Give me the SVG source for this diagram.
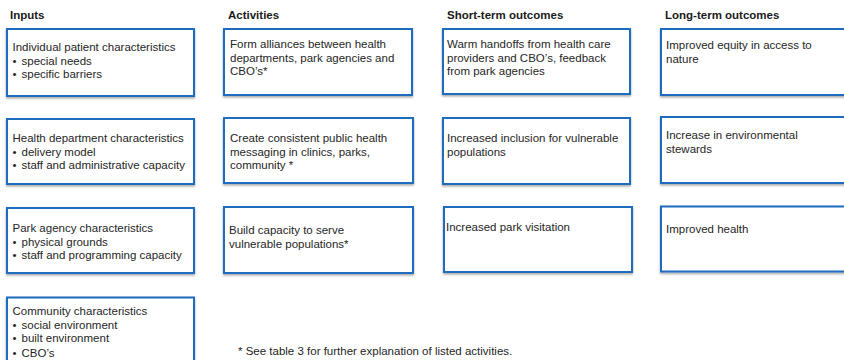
<svg xmlns="http://www.w3.org/2000/svg" width="844" height="360" viewBox="0 0 844 360">
  <defs>
    <filter id="shadow" x="-5%" y="-10%" width="110%" height="125%">
      <feDropShadow dx="0" dy="1.5" stdDeviation="1" flood-color="#000" flood-opacity="0.35"/>
    </filter>
    <style>
      .box { fill: #ffffff; stroke: #1f6cc0; stroke-width: 2; filter: url(#shadow); }
      .hdr { font-family: "Liberation Sans", Arial, sans-serif; font-size: 11.5px; font-weight: bold; fill: #1a1a1a; }
      .txt { font-family: "Liberation Sans", Arial, sans-serif; font-size: 11.5px; fill: #262626; }
    </style>
  </defs>
  <rect width="844" height="360" fill="#ffffff"/>

  <!-- column headers -->
  <g id="headers">
    <text class="hdr" x="10" y="19">Inputs</text>
    <text class="hdr" x="228" y="19">Activities</text>
    <text class="hdr" x="447" y="19">Short-term outcomes</text>
    <text class="hdr" x="665" y="19">Long-term outcomes</text>
  </g>

  <!-- connectors (none drawn) -->
  <g id="connectors"/>

  <!-- Inputs -->
  <g id="input-patient">
    <rect class="box" x="7" y="29" width="187" height="67"/>
    <text class="txt" x="12.5" y="51">Individual patient characteristics</text>
    <text class="txt" y="64.5"><tspan x="12.5">•</tspan><tspan x="21.5">special needs</tspan></text>
    <text class="txt" y="78"><tspan x="12.5">•</tspan><tspan x="21.5">specific barriers</tspan></text>
  </g>
  <g id="input-health-dept">
    <rect class="box" x="7" y="119" width="187" height="65"/>
    <text class="txt" x="12.5" y="142">Health department characteristics</text>
    <text class="txt" y="155.5"><tspan x="12.5">•</tspan><tspan x="21.5">delivery model</tspan></text>
    <text class="txt" y="169"><tspan x="12.5">•</tspan><tspan x="21.5">staff and administrative capacity</tspan></text>
  </g>
  <g id="input-park-agency">
    <rect class="box" x="7" y="208" width="187" height="65"/>
    <text class="txt" x="12.5" y="232">Park agency characteristics</text>
    <text class="txt" y="245.5"><tspan x="12.5">•</tspan><tspan x="21.5">physical grounds</tspan></text>
    <text class="txt" y="259"><tspan x="12.5">•</tspan><tspan x="21.5">staff and programming capacity</tspan></text>
  </g>
  <g id="input-community">
    <rect class="box" x="7" y="297.5" width="187" height="70"/>
    <text class="txt" x="12.5" y="315">Community characteristics</text>
    <text class="txt" y="328.5"><tspan x="12.5">•</tspan><tspan x="21.5">social environment</tspan></text>
    <text class="txt" y="342"><tspan x="12.5">•</tspan><tspan x="21.5">built environment</tspan></text>
    <text class="txt" y="356.5"><tspan x="12.5">•</tspan><tspan x="21.5">CBO’s</tspan></text>
  </g>

  <!-- Activities -->
  <g id="activity-alliances">
    <rect class="box" x="224" y="29" width="188" height="66"/>
    <text class="txt" x="230" y="48">Form alliances between health</text>
    <text class="txt" x="230" y="61.5">departments, park agencies and</text>
    <text class="txt" x="230" y="75">CBO’s*</text>
  </g>
  <g id="activity-messaging">
    <rect class="box" x="224" y="118" width="189" height="65"/>
    <text class="txt" x="230" y="142">Create consistent public health</text>
    <text class="txt" x="230" y="155.5">messaging in clinics, parks,</text>
    <text class="txt" x="230" y="169">community *</text>
  </g>
  <g id="activity-capacity">
    <rect class="box" x="224" y="207" width="189" height="66"/>
    <text class="txt" x="229" y="234">Build capacity to serve</text>
    <text class="txt" x="229" y="247.5">vulnerable populations*</text>
  </g>

  <!-- Short-term outcomes -->
  <g id="short-handoffs">
    <rect class="box" x="443" y="29" width="187" height="65"/>
    <text class="txt" x="447" y="48">Warm handoffs from health care</text>
    <text class="txt" x="447" y="61.5">providers and CBO’s, feedback</text>
    <text class="txt" x="447" y="75">from park agencies</text>
  </g>
  <g id="short-inclusion">
    <rect class="box" x="443" y="118" width="187" height="66"/>
    <text class="txt" x="447" y="142">Increased inclusion for vulnerable</text>
    <text class="txt" x="447" y="155.5">populations</text>
  </g>
  <g id="short-visitation">
    <rect class="box" x="444" y="207" width="188" height="65"/>
    <text class="txt" x="446" y="231">Increased park visitation</text>
  </g>

  <!-- Long-term outcomes -->
  <g id="long-equity">
    <rect class="box" x="661" y="29" width="190" height="66"/>
    <text class="txt" x="666" y="49">Improved equity in access to</text>
    <text class="txt" x="666" y="62.5">nature</text>
  </g>
  <g id="long-stewards">
    <rect class="box" x="661" y="117" width="190" height="66"/>
    <text class="txt" x="666" y="139">Increase in environmental</text>
    <text class="txt" x="666" y="152.5">stewards</text>
  </g>
  <g id="long-health">
    <rect class="box" x="661" y="206.5" width="190" height="65"/>
    <text class="txt" x="666" y="233">Improved health</text>
  </g>

  <text class="txt" x="238" y="355">* See table 3 for further explanation of listed activities.</text>
</svg>
